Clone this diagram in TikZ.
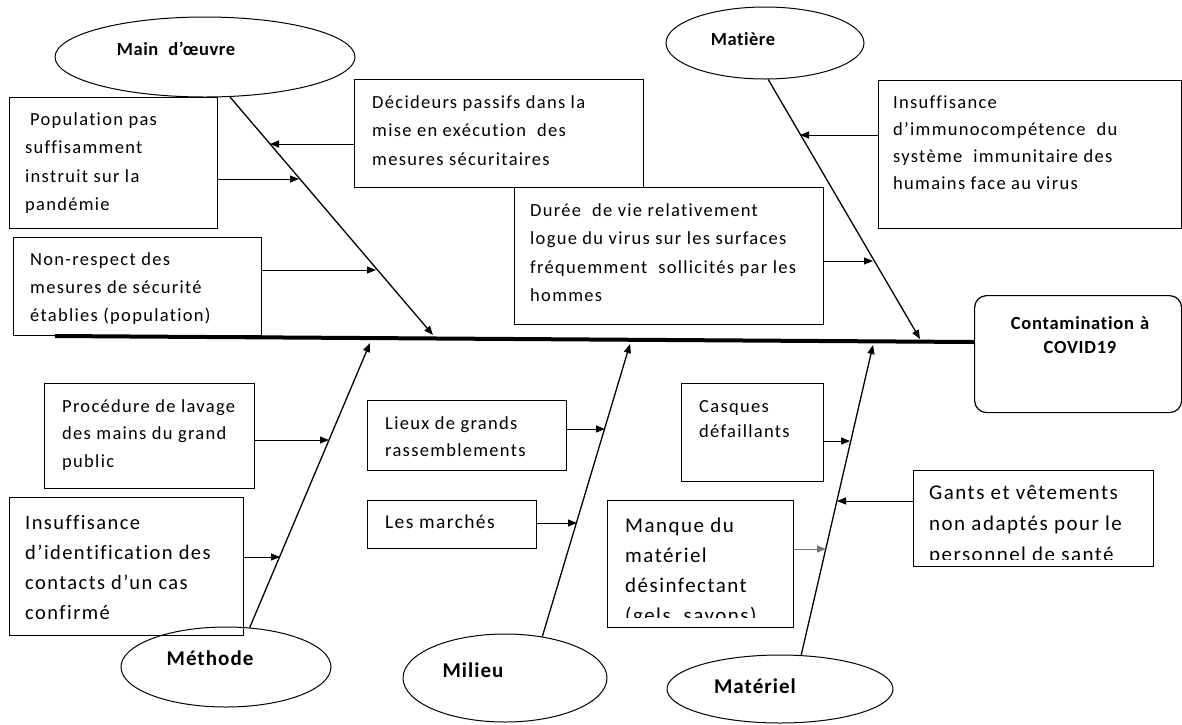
\documentclass[tikz,border=0pt]{standalone}
\usepackage{fontspec}
\setmainfont{Carlito}[LetterSpace=7, Ligatures=NoCommon]
\usetikzlibrary{shapes.geometric,arrows.meta}
\tikzset{
  box/.style={draw, line width=1.2pt, inner sep=0pt, anchor=north west},
  effbox/.style={draw, line width=1.2pt, inner sep=0pt, anchor=north west, rounded corners=12pt},
  txt/.style={inner sep=0pt, anchor=north west, align=left, font=\fontsize{18.5}{28.5}\selectfont},
  ell/.style={draw, ellipse, line width=1pt, inner sep=0pt},
  lbl/.style={inner sep=0pt, anchor=base, font=\bfseries\fontsize{18.5}{22}\selectfont\addfontfeatures{LetterSpace=3}},
  lblbig/.style={inner sep=0pt, anchor=base, font=\bfseries\fontsize{21}{24}\selectfont\addfontfeatures{LetterSpace=5}},
  bone/.style={line width=1.3pt, -{Triangle[length=9pt,width=7pt]}},
  arr/.style={line width=1pt, -{Triangle[length=9pt,width=7pt]}},
  spine/.style={line width=4pt},
}
\begin{document}
\begin{tikzpicture}[x=1pt,y=-1pt]
\useasboundingbox (0,0) rectangle (1182,724);

% effect
\node[effbox, minimum width=207pt, minimum height=117pt] (eff) at (974,295) {};
\node[lbl, align=center, font=\bfseries\fontsize{18.5}{23.5}\selectfont\addfontfeatures{LetterSpace=4}] (effT) at (1080,353) {Contamination\hspace{6pt}à\\COVID19};

% spine
\coordinate (sp0) at (55,336);
\coordinate (sp1) at (974,342);
\draw[spine] (sp0) -- (sp1);

% category ellipses
\node[ell, minimum width=300pt, minimum height=80pt] (mo) at (205,57) {};
\node[lbl] (moT) at (176,55) {Main\hspace{10pt}d’œuvre};
\node[ell, minimum width=198pt, minimum height=72pt] (mat) at (765,43) {};
\node[lbl] (matT) at (743,45) {Matière};
\node[ell, minimum width=210pt, minimum height=80pt] (meth) at (226,667) {};
\node[lblbig] (methT) at (210,665) {Méthode};
\node[ell, minimum width=204pt, minimum height=88pt] (mil) at (505,678) {};
\node[lblbig] (milT) at (473,677) {Milieu};
\node[ell, minimum width=226pt, minimum height=68pt] (matl) at (780,689) {};
\node[lblbig] (matlT) at (755,693) {Matériel};

% bone ends on the spine
\coordinate (moE) at (433,335);
\coordinate (matE) at (920,339);
\coordinate (methE) at (370,343);
\coordinate (milE) at (630,344);
\coordinate (matlE) at (873,345);

\draw[bone] (mo.-58) -- (moE);
\draw[bone] (mat.-85) -- (matE);
\draw[bone] (meth.59) -- (methE);
\draw[bone] (mil.48) -- (milE);
\draw[bone] (matl.58) -- (matlE);

% cause boxes
\node[box, minimum width=208pt, minimum height=131pt] (pop) at (9,97) {};
\node[txt] (popT) at (25,105) {\strut\hspace*{5pt}Population pas\\suffisamment\\instruit sur la\\pandémie};

\node[box, minimum width=289pt, minimum height=108pt] (dec) at (354,79) {};
\node[txt] (decT) at (372,88) {\strut Décideurs passifs dans la\\mise en exécution\ \ des\\mesures sécuritaires};

\node[box, minimum width=248pt, minimum height=98pt] (nonr) at (13,237) {};
\node[txt, font=\fontsize{18.5}{28}\selectfont] (nonrT) at (30,246) {\strut Non-respect des\\mesures de sécurité\\établies (population)};

\node[box, minimum width=309pt, minimum height=137pt] (dur) at (514,187) {};
\node[txt] (durT) at (530,196) {\strut Durée\ \ de vie relativement\\logue du virus sur les surfaces\\fréquemment\ \ sollicités par les\\hommes};

\node[box, minimum width=303pt, minimum height=148pt] (imm) at (878,80) {};
\node[txt, font=\fontsize{18.5}{27}\selectfont] (immT) at (893,89) {\strut Insuffisance\\d’immunocompétence\ \ du\\système\ \ immunitaire des\\humains face au virus};

\node[box, minimum width=210pt, minimum height=105pt] (proc) at (44,383) {};
\node[txt, font=\fontsize{18.5}{27.5}\selectfont] (procT) at (62,393) {\strut Procédure de lavage\\des mains du grand\\public};

\node[box, minimum width=234pt, minimum height=138pt] (ident) at (9,497) {};
\node[txt, font=\fontsize{20.5}{30}\selectfont] (identT) at (25,508) {\strut Insuffisance\\d’identification des\\contacts d’un cas\\confirmé};

\node[box, minimum width=199pt, minimum height=70pt] (lieux) at (367,400) {};
\node[txt, font=\fontsize{18.5}{27}\selectfont] (lieuxT) at (385,410) {\strut Lieux de grands\\rassemblements};

\node[box, minimum width=169pt, minimum height=48pt] (marc) at (367,500) {};
\node[txt, font=\fontsize{19.5}{28}\selectfont] (marcT) at (385,509) {\strut Les marchés};

\node[box, minimum width=142pt, minimum height=98pt] (casq) at (681,383) {};
\node[txt, font=\fontsize{18.5}{25}\selectfont] (casqT) at (699,395) {\strut Casques\\défaillants};

\node[box, minimum width=186pt, minimum height=127pt] (manq) at (607,500) {};
\begin{scope}
  \clip (607,500) rectangle (793,617);
  \node[txt, font=\fontsize{21}{30}\selectfont] (manqT) at (625,511) {\strut Manque du\\matériel\\désinfectant\\(gels, savons)};
\end{scope}

\node[box, minimum width=240pt, minimum height=96pt] (gants) at (913,470) {};
\begin{scope}
  \clip (913,470) rectangle (1153,559);
  \node[txt, font=\fontsize{21}{31}\selectfont] (gantsT) at (929,478) {\strut Gants et vêtements\\non adaptés pour le\\personnel de santé};
\end{scope}

% arrow tips on the bones
\coordinate (t1) at (299,179);
\coordinate (t2) at (270,144);
\coordinate (t3) at (376,270);
\coordinate (t4) at (873,261);
\coordinate (t5) at (800,135);
\coordinate (t6) at (329,440);
\coordinate (t7) at (280,557);
\coordinate (t8) at (605,429);
\coordinate (t9) at (577,523);
\coordinate (t10) at (850,441);
\coordinate (t11) at (837,501);
\coordinate (t12) at (826,549);

\draw[arr] (pop.east |- t1) -- (t1);
\draw[arr] (dec.west |- t2) -- (t2);
\draw[arr] (nonr.east |- t3) -- (t3);
\draw[arr] (dur.east |- t4) -- (t4);
\draw[arr] (imm.west |- t5) -- (t5);
\draw[arr] (proc.east |- t6) -- (t6);
\draw[arr] (ident.east |- t7) -- (t7);
\draw[arr] (lieux.east |- t8) -- (t8);
\draw[arr] (marc.east |- t9) -- (t9);
\draw[arr] (casq.east |- t10) -- (t10);
\draw[arr] (gants.west |- t11) -- (t11);
\draw[arr, draw=black!55] (manq.east |- t12) -- (t12);
\end{tikzpicture}
\end{document}
